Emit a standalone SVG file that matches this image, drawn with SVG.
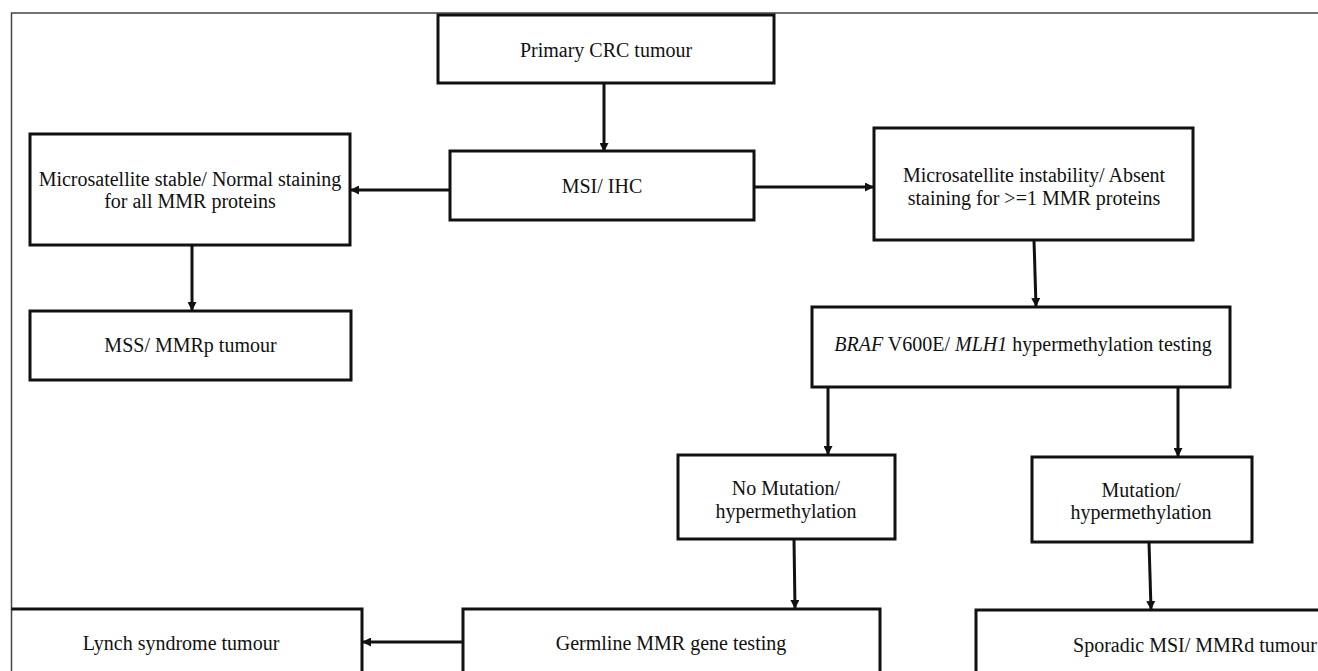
<svg xmlns="http://www.w3.org/2000/svg" width="1318" height="671" viewBox="0 0 1318 671">
<style>
.box{fill:#fff;stroke:#111;stroke-width:3}
.open{fill:none;stroke:#111;stroke-width:3}
.lbl{font-family:"Liberation Serif","Times New Roman",serif;font-size:20px;fill:#111;text-anchor:middle}
.conn{fill:none;stroke:#111;stroke-width:3}
.frame{fill:none;stroke:#444;stroke-width:1.5}
</style>
<defs>
<marker id="ah" markerUnits="userSpaceOnUse" markerWidth="9" markerHeight="9" refX="8" refY="4.5" orient="auto">
<path d="M0,0 L9,4.5 L0,9 z" fill="#111"/>
</marker>
</defs>
<rect width="1318" height="671" fill="#fff"/>
<path class="frame" d="M11.5,671 V13 H1318"/>

<g id="primary"><rect class="box" x="438" y="15" width="336" height="68"/><text class="lbl" x="606" y="57">Primary CRC tumour</text></g>
<g id="msi-ihc"><rect class="box" x="450" y="151" width="304" height="69"/><text class="lbl" x="602" y="193">MSI/ IHC</text></g>
<g id="ms-stable"><rect class="box" x="30" y="134" width="320" height="111"/><text class="lbl" x="190" y="186">Microsatellite stable/ Normal staining</text><text class="lbl" x="190" y="208">for all MMR proteins</text></g>
<g id="mss"><rect class="box" x="30" y="311" width="321" height="69"/><text class="lbl" x="190.5" y="352">MSS/ MMRp tumour</text></g>
<g id="ms-instab"><rect class="box" x="874" y="128" width="319" height="112"/><text class="lbl" x="1034" y="182">Microsatellite instability/ Absent</text><text class="lbl" x="1034" y="205">staining for &gt;=1 MMR proteins</text></g>
<g id="braf"><rect class="box" x="812" y="307" width="418" height="80"/><text class="lbl" x="1023" y="351"><tspan font-style="italic">BRAF</tspan> V600E/ <tspan font-style="italic">MLH1</tspan> hypermethylation testing</text></g>
<g id="no-mut"><rect class="box" x="678" y="455" width="217" height="84"/><text class="lbl" x="786" y="495">No Mutation/</text><text class="lbl" x="786" y="518">hypermethylation</text></g>
<g id="mut"><rect class="box" x="1032" y="457" width="220" height="85"/><text class="lbl" x="1141" y="497">Mutation/</text><text class="lbl" x="1141" y="519">hypermethylation</text></g>
<g id="lynch"><path class="open" d="M11.5,609 H362 V690"/><text class="lbl" x="181" y="650">Lynch syndrome tumour</text></g>
<g id="germline"><rect class="box" x="463" y="609" width="417" height="90"/><text class="lbl" x="671" y="650">Germline MMR gene testing</text></g>
<g id="sporadic"><rect class="box" x="976" y="610" width="360" height="90"/><text class="lbl" x="1195" y="652">Sporadic MSI/ MMRd tumour</text></g>

<g id="connectors">
<path class="conn" marker-end="url(#ah)" d="M604,83 V151"/>
<path class="conn" marker-end="url(#ah)" d="M450,190 H351"/>
<path class="conn" marker-end="url(#ah)" d="M754,187 H873"/>
<path class="conn" marker-end="url(#ah)" d="M192,245 V310"/>
<path class="conn" marker-end="url(#ah)" d="M1034,240 L1036,306"/>
<path class="conn" marker-end="url(#ah)" d="M828,387 V454"/>
<path class="conn" marker-end="url(#ah)" d="M1178,387 V456"/>
<path class="conn" marker-end="url(#ah)" d="M794,539 L795,608"/>
<path class="conn" marker-end="url(#ah)" d="M1149,542 L1151,609"/>
<path class="conn" marker-end="url(#ah)" d="M463,642 H363"/>
</g>
</svg>
